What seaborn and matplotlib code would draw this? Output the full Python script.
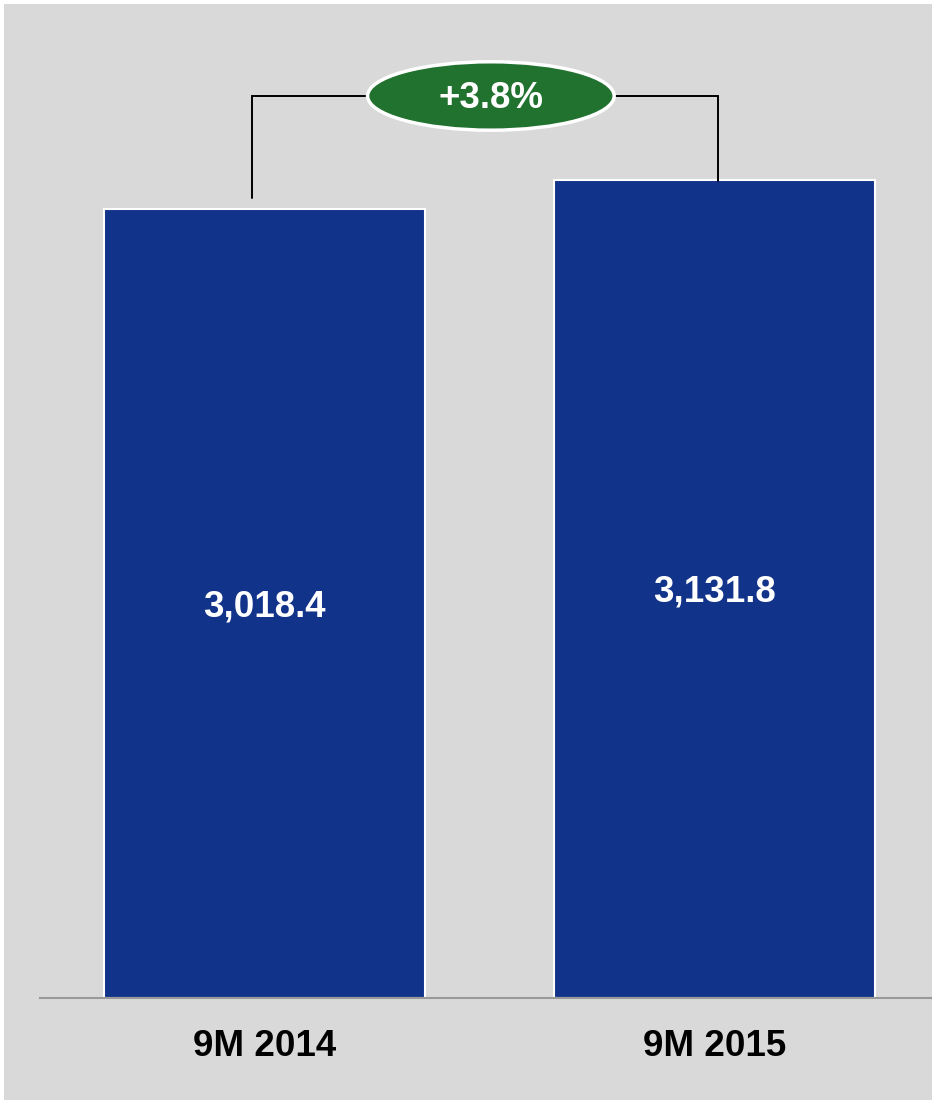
import matplotlib
matplotlib.use("Agg")
import matplotlib.pyplot as plt
from matplotlib.patches import Rectangle, Ellipse
import matplotlib.transforms as mtransforms
import seaborn as sns
import pandas as pd

# Revenue by period
periods = ["9M 2014", "9M 2015"]
revenue = [3018.4, 3131.8]

bar_color = "#12338A"
growth_color = "#21722F"
panel_color = "#D9D9D9"

sns.set_theme(style="white")
plt.rcParams["font.family"] = ["Liberation Sans", "DejaVu Sans"]

df = pd.DataFrame({"period": periods, "revenue": revenue})

fig = plt.figure(figsize=(9.32, 11), dpi=100, facecolor="white")
# grey panel behind the chart (thin white margin top/left)
fig.patches.append(Rectangle((4 / 932, 0), 928 / 932, 1096 / 1100,
                             transform=fig.transFigure, facecolor=panel_color,
                             edgecolor="none", zorder=-10))

ax = fig.add_axes([40 / 932, 102 / 1100, 892 / 932, 994 / 1100])
ax.set_facecolor("none")

sns.barplot(data=df, x="period", y="revenue", width=0.713, color=bar_color,
            saturation=1, edgecolor="white", linewidth=1.5, ax=ax)

ax.set_xlim(-0.4989, 1.4833)
ax.set_ylim(0, 3804)

for s in ["top", "left", "right"]:
    ax.spines[s].set_visible(False)
ax.spines["bottom"].set_color("#999999")
ax.spines["bottom"].set_linewidth(1.5)
ax.spines["bottom"].set_zorder(5)

ax.set_yticks([])
ax.set_xlabel("")
ax.set_ylabel("")
ax.tick_params(axis="x", length=0, pad=22)
for lbl in ax.get_xticklabels():
    lbl.set_fontsize(26.5)
    lbl.set_fontweight("bold")
    lbl.set_color("black")

# nudge centred labels down a few pixels so the digits sit on the centre line
down = mtransforms.offset_copy(ax.transData, fig=fig, x=0, y=-3, units="dots")

# value labels in the middle of each bar
for i, v in enumerate(revenue):
    ax.text(i, v / 2, f"{v:,.1f}", ha="center", va="center", transform=down,
            color="white", fontsize=26.5, fontweight="bold", zorder=6)

# growth bracket between the two bars
growth = (revenue[1] / revenue[0] - 1) * 100
y_top = 3452
x_l = 0 - 0.028
x_r = 1 + 0.008
ax.plot([x_l, x_l, x_r, x_r], [revenue[0] + 43, y_top, y_top, revenue[1] - 5],
        color="black", lw=1.4, solid_joinstyle="miter", zorder=3)
ax.add_patch(Ellipse((0.503, y_top), width=0.548, height=262,
                     facecolor=growth_color, edgecolor="white", lw=2.5, zorder=4))
ax.text(0.503, y_top, f"+{growth:.1f}%", ha="center", va="center", transform=down,
        color="white", fontsize=26.5, fontweight="bold", zorder=6)

fig.savefig("out.png", dpi=100, facecolor=fig.get_facecolor())
